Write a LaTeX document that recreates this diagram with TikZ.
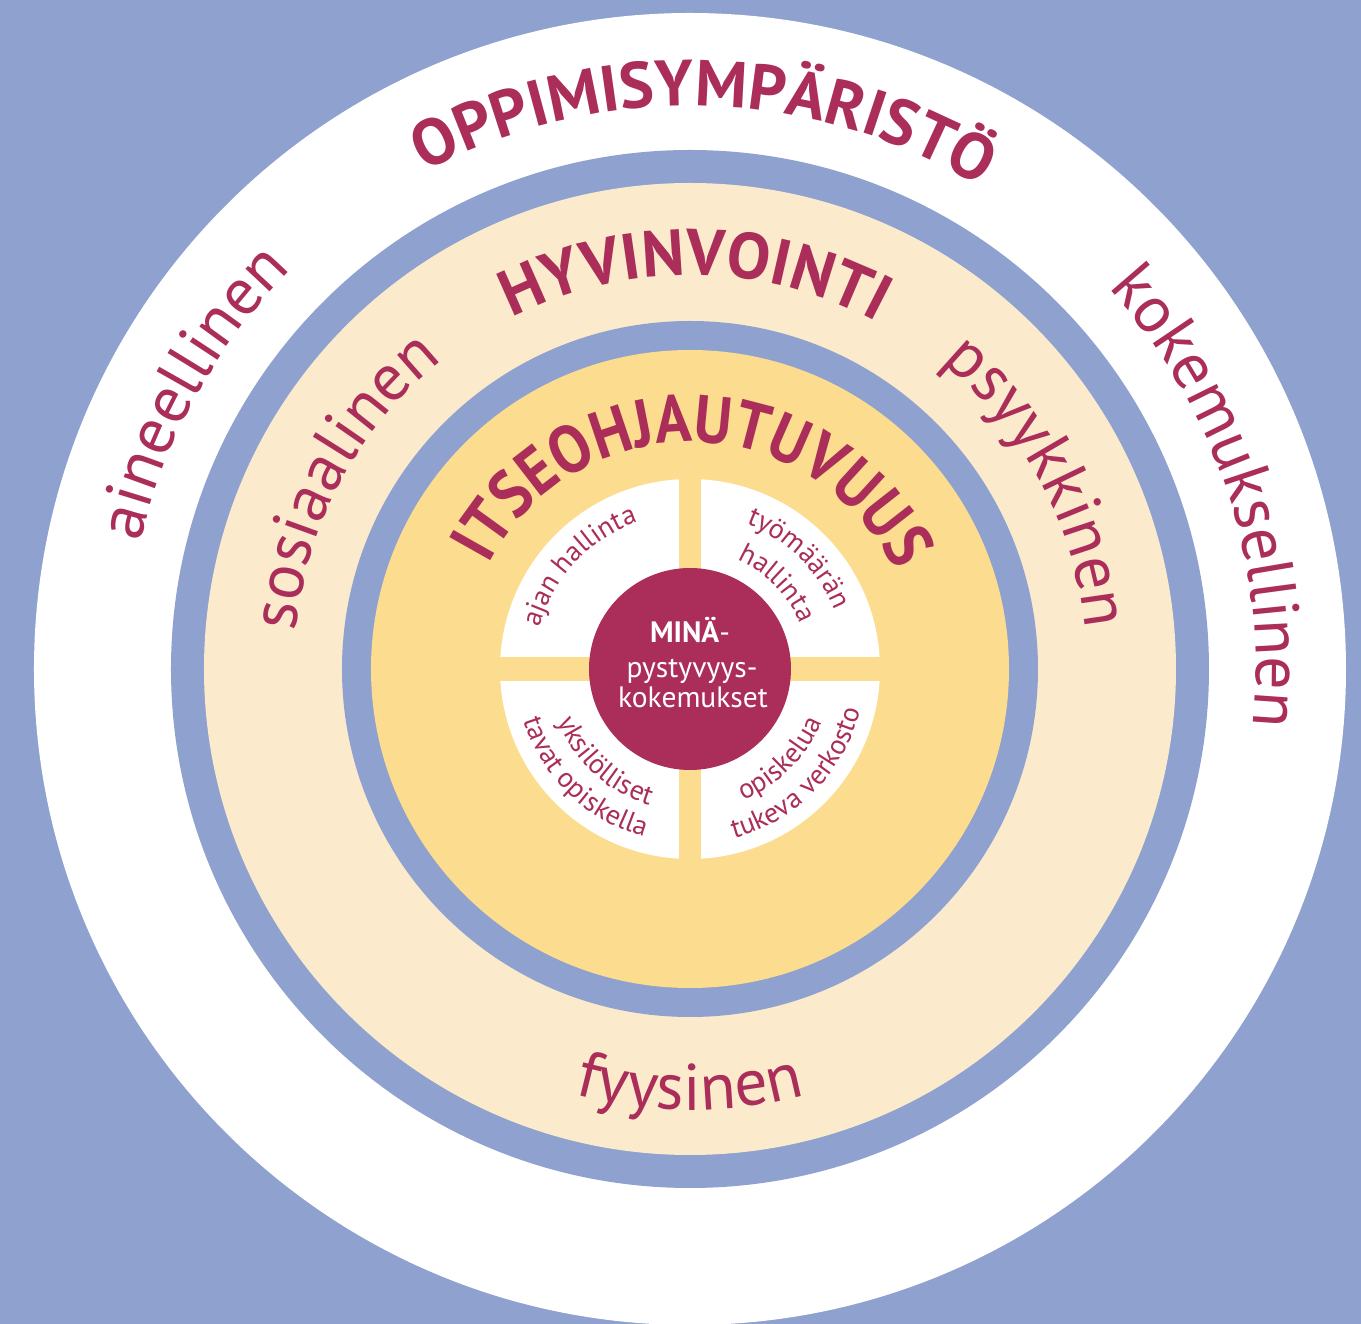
\documentclass[tikz,border=0pt]{standalone}
\usepackage{fontspec}
\setmainfont{PT Sans}
\newfontfamily\capsfont[FakeStretch=0.9]{PT Sans}
\usetikzlibrary{decorations.text}
\definecolor{ringblue}{RGB}{143,161,207}
\definecolor{cream}{RGB}{251,235,204}
\definecolor{yolk}{RGB}{252,220,142}
\definecolor{plum}{RGB}{170,45,90}
\newcommand\headsize{\bfseries\fontsize{65}{70}\selectfont}
\newcommand\coresize{\capsfont\bfseries\fontsize{67}{72}\selectfont}
\newcommand\ringsize{\fontsize{66}{72}\selectfont}
\newcommand\quadsize{\fontsize{28}{32}\selectfont}
\tikzset{
  ringtext/.style={decorate,decoration={text along path,text align=center,text color=plum,text={#1}}},
  minatext/.style={anchor=base,inner sep=0,text=white,font=\fontsize{29.5}{32}\selectfont},
}
\begin{document}
\begin{tikzpicture}[x=1pt,y=1pt]
\useasboundingbox (-690,-655) rectangle (671,669);
\fill[ringblue] (-690,-655) rectangle (671,669);
\fill[white] (0,0) circle (656);
\fill[ringblue] (0,0) circle (519);
\fill[cream] (0,0) circle (486);
\fill[ringblue] (0,0) circle (348);
\fill[yolk] (0,0) circle (319);
\fill[white] (0,0) circle (190);
\fill[yolk] (-11,-191) rectangle (11,191);
\fill[yolk] (-191,-12) rectangle (191,12);
\fill[plum] (0,0) circle (101);

\path[ringtext={|\headsize|OPPIMISYMPÄRISTÖ}] (148.5:563) arc[start angle=148.5,end angle=28.5,radius=563];
\path[ringtext={|\ringsize|aineellinen}] (211:564) arc[start angle=211,end angle=91,radius=564];
\path[ringtext={|\ringsize|kokemuksellinen}] (78.3:566) arc[start angle=78.3,end angle=-41.7,radius=566];

\path[ringtext={|\headsize|HYVINVOINTI}] (149.3:394) arc[start angle=149.3,end angle=29.3,radius=394];
\path[ringtext={|\ringsize|sosiaalinen}] (211.6:396) arc[start angle=211.6,end angle=91.6,radius=396];
\path[ringtext={|\ringsize|psyykkinen}] (88.2:397) arc[start angle=88.2,end angle=-31.8,radius=397];
\path[ringtext={|\ringsize|fyysinen}] (210:441) arc[start angle=210,end angle=330,radius=441];

\path[ringtext={|\coresize|ITSEOHJAUTUVUUS}] (199:227) arc[start angle=199,end angle=-21,radius=227];

\path[ringtext={|\quadsize|ajan hallinta}] (197:156) arc[start angle=197,end angle=77,radius=156];
\path[ringtext={|\quadsize|työmäärän}] (105.5:156) arc[start angle=105.5,end angle=-14.5,radius=156];
\path[ringtext={|\quadsize|hallinta}] (104.5:119) arc[start angle=104.5,end angle=-15.5,radius=119];
\path[ringtext={|\quadsize|yksilölliset}] (167.5:142) arc[start angle=167.5,end angle=287.5,radius=142];
\path[ringtext={|\quadsize|tavat opiskella}] (166:174) arc[start angle=166,end angle=286,radius=174];
\path[ringtext={|\quadsize|opiskelua}] (255:142) arc[start angle=255,end angle=375,radius=142];
\path[ringtext={|\quadsize|tukeva verkosto}] (255.5:175) arc[start angle=255.5,end angle=375.5,radius=175];

\node[minatext] (mina) at (0,26) {\textbf{MINÄ}-};
\node[minatext] (pysty) at (2,-9) {pystyvyys-};
\node[minatext] (koke) at (3,-39) {kokemukset};
\end{tikzpicture}
\end{document}
